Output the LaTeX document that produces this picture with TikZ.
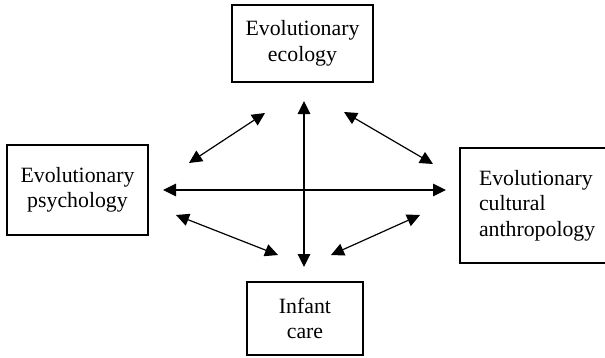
\documentclass[tikz,border=0pt]{standalone}
\usepackage{fontspec}
\setmainfont{Liberation Serif}
\usetikzlibrary{arrows.meta}
\begin{document}
\begin{tikzpicture}[x=1pt,y=-1pt,
  field/.style={draw,line width=1.4pt,rectangle,inner sep=0pt,
    font=\fontsize{21.8}{25.5}\selectfont},
  link/.style={line width=1.2pt,{Triangle[length=13pt,width=12.5pt]}-{Triangle[length=13pt,width=12.5pt]}}]
\clip (0,0) rectangle (605,357);
\fill[white] (0,0) rectangle (605,357);

% discipline boxes
\node[field,minimum width=141pt,minimum height=77pt,align=center] (eco) at (302.5,43.5)
  {Evolutionary\\ecology};
\node[field,minimum width=141pt,minimum height=90pt,align=center] (psy) at (77.5,190)
  {Evolutionary\\psychology};
\node[field,minimum width=150pt,minimum height=115pt,align=left,text width=150pt] (ant) at (535,205.5)
  {\hspace*{19pt}Evolutionary\\\hspace*{19pt}cultural\\\hspace*{19pt}anthropology};
\node[field,minimum width=116pt,minimum height=73pt,align=center] (inf) at (305,318.5)
  {Infant\\care};

% arrow end points
\coordinate (vT) at (304,101);
\coordinate (vB) at (304,267);
\coordinate (hL) at (163,190);
\coordinate (hR) at (446,190);
\coordinate (ulA) at (189,163);
\coordinate (ulB) at (265,113);
\coordinate (urA) at (344,112);
\coordinate (urB) at (433,164);
\coordinate (llA) at (176,215);
\coordinate (llB) at (278,255);
\coordinate (lrA) at (420,215);
\coordinate (lrB) at (331,255);

\draw[link] (vT) -- (vB);
\draw[link] (hL) -- (hR);
\draw[link] (ulA) -- (ulB);
\draw[link] (urA) -- (urB);
\draw[link] (llA) -- (llB);
\draw[link] (lrA) -- (lrB);
\end{tikzpicture}
\end{document}
